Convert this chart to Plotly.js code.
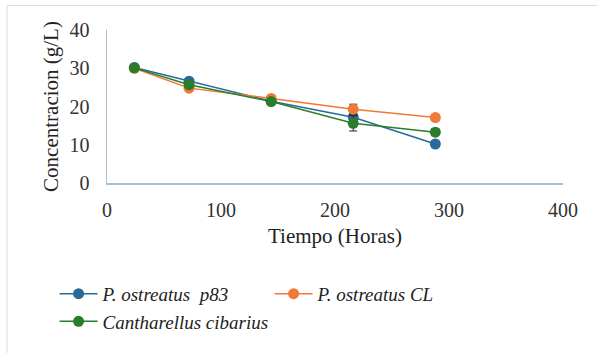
<!DOCTYPE html>
<html>
<head>
<meta charset="utf-8">
<script src="https://cdn.plot.ly/plotly-3.0.1.min.js"></script>
<style>html,body{margin:0;padding:0;background:#fff;}#chart{width:597px;height:353px;}</style>
</head>
<body>
<div id="chart"></div>
<script>
const tiempo = [24, 72, 144, 216, 288];
const p83 = [30.2, 26.6, 21.4, 17.2, 10.2];
const p83Err = [0.5, 0.6, 0.6, 0.8, 0.7];
const cl = [30.0, 24.8, 22.1, 19.3, 17.1];
const clErr = [0.5, 0.6, 0.7, 1.3, 0.8];
const cc = [30.1, 25.7, 21.3, 15.6, 13.3];
const ccErr = [0.5, 0.6, 0.6, 2.0, 0.9];
const names = ['P. ostreatus  p83', 'P. ostreatus CL', 'Cantharellus cibarius'];
const colors = ['#2a6a99', '#f07a35', '#2a7d2a'];

function tr(y, e, i) {
  return {
    x: tiempo, y: y, name: names[i], type: 'scatter', mode: 'lines+markers',
    line: {color: colors[i], width: 1.5},
    marker: {color: colors[i], size: 11},
    error_y: {type: 'data', array: e, visible: true, color: '#222', thickness: 1, width: 4}
  };
}
const data = [tr(p83, p83Err, 0), tr(cl, clErr, 1), tr(cc, ccErr, 2)];
const fam = "Liberation Serif";
const font = {family: fam, color: '#333', size: 19};
const layout = {
  width: 597, height: 353,
  margin: {l: 107, r: 34, t: 30, b: 167},
  paper_bgcolor: '#fff', plot_bgcolor: '#fff',
  font: font,
  showlegend: true,
  xaxis: {
    range: [0, 400], tickvals: [0, 100, 200, 300, 400], showgrid: false, zeroline: false,
    showline: true, linecolor: '#a9bfd3', linewidth: 1.5, ticks: '', ticklen: 0,
    ticklabelstandoff: 8,
    tickfont: {family: fam, size: 20, color: '#333'},
    title: {text: 'Tiempo (Horas)', font: {family: fam, size: 21, color: '#222'}, standoff: 9},
    fixedrange: true
  },
  yaxis: {
    range: [0, 40], tickvals: [0, 10, 20, 30, 40], showgrid: false, zeroline: false,
    showline: true, linecolor: '#a9bfd3', linewidth: 1.5, ticks: '',
    ticklabelstandoff: 12,
    tickfont: {family: fam, size: 20, color: '#333'},
    title: {text: 'Concentracion (g/L)', font: {family: fam, size: 21, color: '#222'}, standoff: 5},
    fixedrange: true
  },
  legend: {
    orientation: 'h', x: -0.115, xanchor: 'left', y: -0.6, yanchor: 'top',
    entrywidth: 162, entrywidthmode: 'pixels', itemwidth: 38,
    font: {family: fam, size: 19, color: '#222', style: 'italic'},
    bgcolor: 'rgba(0,0,0,0)', tracegroupgap: 0
  },
  shapes: [{
    type: 'rect', xref: 'paper', yref: 'paper',
    x0: (7 - 107) / 456, x1: 1.2, y0: -2, y1: (186 - 5) / 156,
    line: {color: '#dcdcdc', width: 1}, layer: 'below'
  }]
};
Plotly.newPlot('chart', data, layout, {staticPlot: true});
</script>
</body>
</html>
